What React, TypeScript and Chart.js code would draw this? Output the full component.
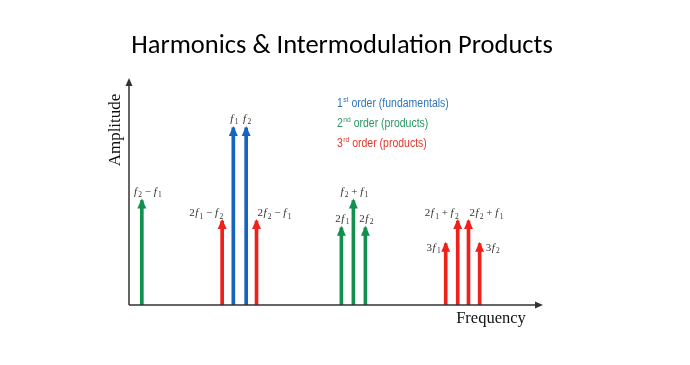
import React, { useEffect, useRef } from "react";
import { Chart, registerables } from "chart.js";

Chart.register(...registerables);

// ---- data ----
const titleText = "Harmonics & Intermodulation Products";
const xAxisTitle = "Frequency";
const yAxisTitle = "Amplitude";

// frequency position and amplitude (arbitrary units)
const firstOrderLabels = ["f1", "f2"];
const firstOrderFreq = [25.2, 28.3];
const firstOrderAmp = [78, 78];

const secondOrderLabels = ["f2 - f1", "2f1", "f2 + f1", "2f2"];
const secondOrderFreq = [3.1, 51.3, 54.2, 57.1];
const secondOrderAmp = [46, 34, 46, 34];

const thirdOrderLabels = ["2f1 - f2", "2f2 - f1", "3f1", "2f1 + f2", "2f2 + f1", "3f2"];
const thirdOrderFreq = [22.5, 30.8, 76.5, 79.4, 82.0, 84.7];
const thirdOrderAmp = [37, 37, 27, 37, 37, 27];

// label placement relative to arrow tip
const firstOrderLabelPos = ["top", "top"];
const secondOrderLabelPos = ["topshift", "top", "top", "top"];
const thirdOrderLabelPos = ["topleft", "topright", "left", "topleft", "topright", "right"];

const legendOrders = ["1", "2", "3"];
const legendSups = ["st", "nd", "rd"];
const legendTexts = [" order (fundamentals)", " order (products)", " order (products)"];

const blue = "#1565c0";
const green = "#11904f";
const red = "#f0201a";
const legendColors = ["#2f74bd", "#279763", "#e0392c"];

const xMin = 0;
const xMax = 100;
const yMin = 0;
const yMax = 100;

function toPoints(xs: number[], ys: number[]) {
  return xs.map((x, i) => ({ x, y: ys[i] }));
}

const serif = '"Liberation Serif", "DejaVu Serif", serif';

// draw math label like "2f1 + f2": italic f, subscript digits after f
function drawMath(ctx: CanvasRenderingContext2D, text: string, x: number, y: number, align: string) {
  const base = 11;
  const sub = 7.5;
  const segs: { t: string; font: string; dy: number; extra: number }[] = [];
  for (let i = 0; i < text.length; i++) {
    const c = text[i];
    if (c === "f") {
      segs.push({ t: "f", font: `italic ${base}px ${serif}`, dy: 0, extra: 1.3 });
    } else if (/[0-9]/.test(c) && i > 0 && text[i - 1] === "f") {
      segs.push({ t: c, font: `${sub}px ${serif}`, dy: 2.5, extra: 0 });
    } else if (c === "-") {
      segs.push({ t: " \u2212 ", font: `${base}px ${serif}`, dy: 0, extra: 0 });
    } else if (c === "+") {
      segs.push({ t: " + ", font: `${base}px ${serif}`, dy: 0, extra: 0 });
    } else if (c === " ") {
      // spaces are included around operators
    } else {
      segs.push({ t: c, font: `${base}px ${serif}`, dy: 0, extra: 0.5 });
    }
  }
  let w = 0;
  for (const s of segs) {
    ctx.font = s.font;
    w += ctx.measureText(s.t).width + s.extra;
  }
  let cx = align === "center" ? x - w / 2 : align === "right" ? x - w : x;
  ctx.textAlign = "left";
  ctx.textBaseline = "alphabetic";
  for (const s of segs) {
    ctx.font = s.font;
    ctx.fillText(s.t, cx, y + s.dy);
    cx += ctx.measureText(s.t).width + s.extra;
  }
}

const arrowPlugin = {
  id: "arrowsAndText",
  afterDatasetsDraw(chart: any) {
    const ctx: CanvasRenderingContext2D = chart.ctx;
    const area = chart.chartArea;
    ctx.save();

    // axes
    ctx.strokeStyle = "#333333";
    ctx.fillStyle = "#333333";
    ctx.lineWidth = 1.5;
    ctx.beginPath();
    ctx.moveTo(area.left, area.bottom);
    ctx.lineTo(area.right - 4, area.bottom);
    ctx.moveTo(area.left, area.bottom);
    ctx.lineTo(area.left, area.top + 4);
    ctx.stroke();
    ctx.beginPath();
    ctx.moveTo(area.right, area.bottom);
    ctx.lineTo(area.right - 8, area.bottom - 3.5);
    ctx.lineTo(area.right - 8, area.bottom + 3.5);
    ctx.closePath();
    ctx.fill();
    ctx.beginPath();
    ctx.moveTo(area.left, area.top);
    ctx.lineTo(area.left - 3.5, area.top + 8);
    ctx.lineTo(area.left + 3.5, area.top + 8);
    ctx.closePath();
    ctx.fill();

    // arrow heads + labels
    const labelSets = [firstOrderLabels, secondOrderLabels, thirdOrderLabels];
    const posSets = [firstOrderLabelPos, secondOrderLabelPos, thirdOrderLabelPos];
    chart.data.datasets.forEach((ds: any, di: number) => {
      const meta = chart.getDatasetMeta(di);
      meta.data.forEach((el: any, i: number) => {
        const x = el.x;
        const tip = el.y - 2;
        ctx.fillStyle = ds.backgroundColor;
        ctx.beginPath();
        ctx.moveTo(x, tip);
        ctx.lineTo(x - 4.5, tip + 10);
        ctx.lineTo(x + 4.5, tip + 10);
        ctx.closePath();
        ctx.fill();

        const lab = labelSets[di][i];
        const pos = posSets[di][i];
        ctx.fillStyle = "#333333";
        if (pos === "top") {
          drawMath(ctx, lab, x + 1, tip - 4, "center");
        } else if (pos === "topshift") {
          drawMath(ctx, lab, x + 6, tip - 4, "center");
        } else if (pos === "topleft") {
          drawMath(ctx, lab, x + 1, tip - 3, "right");
        } else if (pos === "topright") {
          drawMath(ctx, lab, x + 1, tip - 3, "left");
        } else if (pos === "left") {
          drawMath(ctx, lab, x - 5, tip + 9, "right");
        } else {
          drawMath(ctx, lab, x + 6, tip + 9, "left");
        }
      });
    });

    // title
    ctx.fillStyle = "#000000";
    ctx.font = '26.5px "Carlito", "Liberation Sans", "Open Sans", sans-serif';
    ctx.textAlign = "center";
    ctx.textBaseline = "alphabetic";
    ctx.fillText(titleText, 342, 53);

    // axis titles
    ctx.font = `16.5px ${serif}`;
    ctx.fillStyle = "#111111";
    ctx.textAlign = "center";
    ctx.fillText(xAxisTitle, 491, 323);
    ctx.save();
    ctx.translate(120, 130);
    ctx.rotate(-Math.PI / 2);
    ctx.font = `17px ${serif}`;
    ctx.fillText(yAxisTitle, 0, 0);
    ctx.restore();

    // legend (condensed sans)
    legendOrders.forEach((n, i) => {
      const y = 107 + i * 20;
      ctx.save();
      ctx.translate(337, y);
      ctx.scale(0.84, 1);
      let cx = 0;
      ctx.fillStyle = legendColors[i];
      ctx.textAlign = "left";
      ctx.font = '12.5px "Liberation Sans", sans-serif';
      ctx.fillText(n, cx, 0);
      cx += ctx.measureText(n).width + 0.5;
      ctx.font = '8px "Liberation Sans", sans-serif';
      ctx.fillText(legendSups[i], cx, -5);
      cx += ctx.measureText(legendSups[i]).width;
      ctx.font = '12.5px "Liberation Sans", sans-serif';
      ctx.fillText(legendTexts[i], cx, 0);
      ctx.restore();
    });

    ctx.restore();
  },
};

export default function App() {
  const canvasRef = useRef<HTMLCanvasElement | null>(null);

  useEffect(() => {
    if (!canvasRef.current) return;
    const chart = new Chart(canvasRef.current, {
      type: "bar",
      data: {
        datasets: [
          {
            label: "1st order (fundamentals)",
            data: toPoints(firstOrderFreq, firstOrderAmp),
            backgroundColor: blue,
            barThickness: 3,
            grouped: false,
          },
          {
            label: "2nd order (products)",
            data: toPoints(secondOrderFreq, secondOrderAmp),
            backgroundColor: green,
            barThickness: 3,
            grouped: false,
          },
          {
            label: "3rd order (products)",
            data: toPoints(thirdOrderFreq, thirdOrderAmp),
            backgroundColor: red,
            barThickness: 3,
            grouped: false,
          },
        ] as any,
      },
      options: {
        animation: false,
        responsive: false,
        maintainAspectRatio: false,
        layout: { padding: { left: 129, right: 147, top: 78, bottom: 60 } },
        plugins: {
          legend: { display: false },
          title: { display: false },
          tooltip: { enabled: false },
        },
        scales: {
          x: { type: "linear", min: xMin, max: xMax, display: false, offset: false },
          y: { type: "linear", min: yMin, max: yMax, display: false },
        },
      },
      plugins: [arrowPlugin],
    });
    return () => chart.destroy();
  }, []);

  return (
    <div style={{ position: "fixed", left: 0, top: 0, width: 690, height: 365, background: "#ffffff" }}>
      <canvas ref={canvasRef} width={690} height={365} style={{ width: 690, height: 365 }} />
    </div>
  );
}
